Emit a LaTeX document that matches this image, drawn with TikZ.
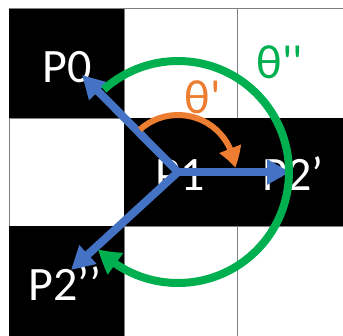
\documentclass[tikz,border=0pt]{standalone}
\usepackage{fontspec}
\newfontfamily\labfont{Carlito}
\usetikzlibrary{arrows.meta,bending}
\definecolor{cblue}{HTML}{4472C4}
\definecolor{corange}{HTML}{ED7D31}
\definecolor{cgreen}{HTML}{00B050}
\begin{document}
\begin{tikzpicture}[x=1pt,y=1pt,
  blackcell/.style={fill=black},
  whitecell/.style={fill=white,draw=gray,line width=1pt},
  lab/.style={font=\labfont\fontsize{48}{52}\selectfont,inner sep=0pt,anchor=base},
  bluearrow/.style={draw=cblue,line width=8pt,-{Triangle[length=23pt,width=24pt]}},
  orangearrow/.style={draw=corange,line width=6pt,-{Triangle[length=20pt,width=22pt,bend]}},
  greenarrow/.style={draw=cgreen,line width=8pt,-{Triangle[length=23pt,width=25pt,bend]}}]
\useasboundingbox (0,0) rectangle (343,-335);
\clip (0,0) rectangle (343,-335);
\fill[white] (0,0) rectangle (343,-335);
% grid cells
\draw[whitecell] (124,-8) rectangle (237,-118);
\draw[whitecell] (237,-8) rectangle (360,-118);
\draw[whitecell] (9,-118) rectangle (124,-226);
\draw[whitecell] (124,-226) rectangle (237,-345);
\draw[whitecell] (237,-226) rectangle (360,-345);
\draw[gray,line width=1pt] (9,-8) -- (124,-8);
\fill[blackcell] (9,-8.5) rectangle (124,-118);
\fill[blackcell] (124,-118) rectangle (360,-226);
\fill[blackcell] (9,-226) rectangle (124,-345);
% labels
\node[lab,text=white] (p0) at (67.5,-82) {P0};
\node[lab,text=white] (p1) at (180,-190) {P1};
\node[lab,text=white] (p2a) at (293,-190) {P2’};
\node[lab,text=white] (p2b) at (65,-300) {P2’’};
\node[lab,text=corange] (th1) at (203,-113) {θ'};
\node[lab,text=cgreen] (th2) at (280,-78) {θ''};
% points
\coordinate (c) at (178,-172);
\coordinate (t0) at (82,-75);
\coordinate (t2a) at (290,-172);
\coordinate (t2b) at (71,-270);
% blue vectors
\draw[bluearrow] (c) -- (t0);
\draw[bluearrow] (c) -- (t2a);
\draw[bluearrow] (c) -- (t2b);
% angle arcs
\draw[orangearrow] (c) ++(132:57) arc[start angle=132,end angle=4,radius=57];
\draw[greenarrow] (c) ++(132:111) arc[start angle=132,end angle=-136,radius=111];
\end{tikzpicture}
\end{document}
